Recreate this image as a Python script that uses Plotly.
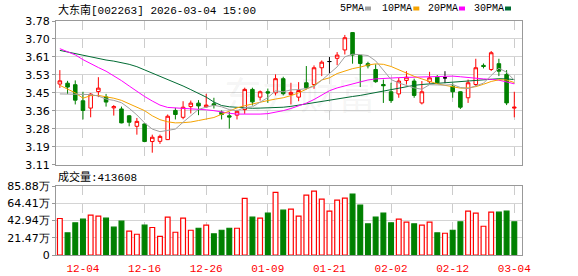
import plotly.graph_objects as go

# ---------------- data ----------------
dates = ["12-01", "12-02", "12-03", "12-04", "12-05", "12-08", "12-09", "12-10", "12-11", "12-12",
         "12-15", "12-16", "12-17", "12-18", "12-19", "12-22", "12-23", "12-24", "12-25", "12-26",
         "12-29", "12-30", "12-31", "01-05", "01-06", "01-07", "01-08", "01-09", "01-12", "01-13",
         "01-14", "01-15", "01-16", "01-19", "01-20", "01-21", "01-22", "01-23", "01-26", "01-27",
         "01-28", "01-29", "01-30", "02-02", "02-03", "02-04", "02-05", "02-06", "02-09", "02-10",
         "02-11", "02-12", "02-13", "02-24", "02-25", "02-26", "02-27", "03-02", "03-03", "03-04"]

open_ = [3.486, 3.490, 3.483, 3.408, 3.374, 3.451, 3.426, 3.375, 3.370, 3.338,
         3.289, 3.300, 3.218, 3.219, 3.227, 3.363, 3.331, 3.381, 3.397, 3.380,
         3.394, 3.355, 3.338, 3.341, 3.367, 3.461, 3.425, 3.450, 3.445, 3.511,
         3.437, 3.425, 3.492, 3.484, 3.562, 3.591, 3.606, 3.645, 3.726, 3.620,
         3.581, 3.554, 3.484, 3.450, 3.440, 3.503, 3.500, 3.398, 3.497, 3.518,
         3.515, 3.476, 3.450, 3.422, 3.484, 3.573, 3.554, 3.581, 3.531, 3.374]
high = [3.551, 3.501, 3.503, 3.450, 3.444, 3.518, 3.440, 3.388, 3.381, 3.341,
        3.328, 3.302, 3.250, 3.250, 3.344, 3.375, 3.406, 3.409, 3.411, 3.440,
        3.422, 3.363, 3.356, 3.366, 3.469, 3.469, 3.456, 3.465, 3.531, 3.520,
        3.492, 3.495, 3.570, 3.573, 3.596, 3.612, 3.635, 3.715, 3.727, 3.621,
        3.590, 3.578, 3.507, 3.492, 3.515, 3.546, 3.511, 3.500, 3.543, 3.528,
        3.546, 3.489, 3.452, 3.507, 3.604, 3.582, 3.640, 3.604, 3.551, 3.450]
low = [3.468, 3.440, 3.391, 3.321, 3.331, 3.425, 3.381, 3.339, 3.303, 3.289,
       3.250, 3.215, 3.166, 3.207, 3.225, 3.321, 3.322, 3.349, 3.341, 3.375,
       3.372, 3.321, 3.278, 3.321, 3.347, 3.386, 3.409, 3.398, 3.433, 3.433,
       3.391, 3.406, 3.461, 3.464, 3.523, 3.534, 3.574, 3.624, 3.581, 3.472,
       3.559, 3.492, 3.398, 3.398, 3.422, 3.484, 3.422, 3.391, 3.489, 3.489,
       3.490, 3.422, 3.370, 3.398, 3.476, 3.559, 3.547, 3.523, 3.388, 3.331]
close = [3.501, 3.472, 3.411, 3.363, 3.439, 3.467, 3.402, 3.381, 3.305, 3.308,
         3.312, 3.218, 3.238, 3.242, 3.336, 3.344, 3.378, 3.397, 3.384, 3.388,
         3.386, 3.344, 3.332, 3.359, 3.461, 3.403, 3.450, 3.444, 3.511, 3.441,
         3.447, 3.456, 3.469, 3.562, 3.588, 3.591, 3.621, 3.702, 3.621, 3.582,
         3.571, 3.497, 3.478, 3.409, 3.500, 3.518, 3.433, 3.450, 3.515, 3.492,
         3.515, 3.450, 3.378, 3.492, 3.562, 3.568, 3.632, 3.546, 3.398, 3.378]

ma5 = [3.440, 3.440, 3.439, 3.438, 3.437, 3.430, 3.416, 3.410, 3.399, 3.373,
       3.342, 3.305, 3.276, 3.264, 3.269, 3.276, 3.308, 3.339, 3.368, 3.378,
       3.387, 3.380, 3.367, 3.362, 3.376, 3.380, 3.401, 3.423, 3.454, 3.450,
       3.459, 3.460, 3.465, 3.475, 3.504, 3.533, 3.566, 3.613, 3.625, 3.623,
       3.619, 3.594, 3.550, 3.507, 3.491, 3.480, 3.468, 3.462, 3.483, 3.482,
       3.481, 3.484, 3.470, 3.465, 3.479, 3.490, 3.526, 3.560, 3.541, 3.504]
ma10 = [3.480, 3.462, 3.445, 3.420, 3.432, 3.433, 3.428, 3.420, 3.410, 3.395,
        3.380, 3.362, 3.338, 3.320, 3.310, 3.305, 3.306, 3.309, 3.316, 3.322,
        3.330, 3.345, 3.360, 3.375, 3.385, 3.394, 3.402, 3.409, 3.416, 3.422,
        3.432, 3.445, 3.462, 3.480, 3.505, 3.515, 3.535, 3.546, 3.558, 3.565,
        3.575, 3.580, 3.578, 3.568, 3.553, 3.535, 3.522, 3.510, 3.498, 3.487,
        3.480, 3.472, 3.467, 3.468, 3.474, 3.485, 3.498, 3.506, 3.505, 3.493]
ma20 = [3.651, 3.637, 3.622, 3.600, 3.580, 3.563, 3.546, 3.525, 3.502, 3.477,
        3.452, 3.428, 3.407, 3.388, 3.377, 3.375, 3.374, 3.372, 3.369, 3.366,
        3.362, 3.355, 3.350, 3.346, 3.345, 3.345, 3.346, 3.348, 3.354, 3.362,
        3.372, 3.383, 3.397, 3.414, 3.435, 3.455, 3.468, 3.478, 3.487, 3.495,
        3.505, 3.510, 3.513, 3.515, 3.516, 3.517, 3.518, 3.520, 3.522, 3.524,
        3.524, 3.523, 3.520, 3.516, 3.513, 3.510, 3.508, 3.504, 3.496, 3.487]
ma30 = [3.643, 3.635, 3.627, 3.620, 3.612, 3.605, 3.598, 3.593, 3.587, 3.578,
        3.567, 3.552, 3.537, 3.522, 3.509, 3.494, 3.477, 3.460, 3.443, 3.425,
        3.402, 3.386, 3.380, 3.377, 3.375, 3.373, 3.374, 3.375, 3.376, 3.378,
        3.382, 3.388, 3.395, 3.400, 3.404, 3.410, 3.417, 3.423, 3.428, 3.433,
        3.440, 3.447, 3.455, 3.462, 3.468, 3.474, 3.480, 3.484, 3.487, 3.490,
        3.492, 3.495, 3.497, 3.500, 3.502, 3.505, 3.508, 3.511, 3.510, 3.507]

volume = [454000, 275000, 400000, 446000, 496000, 483000, 458000, 346000, 421000, 296000,
          258000, 371000, 342000, 233000, 471000, 283000, 458000, 308000, 333000, 371000,
          263000, 308000, 333000, 333000, 704000, 471000, 458000, 521000, 779000, 558000,
          571000, 483000, 746000, 796000, 696000, 546000, 683000, 708000, 758000, 621000,
          388000, 471000, 521000, 400000, 446000, 408000, 388000, 371000, 408000, 275000,
          271000, 308000, 413000, 546000, 521000, 358000, 533000, 533000, 546000, 413608]

x_tick_labels = ["12-04", "12-16", "12-26", "01-09", "01-21", "02-02", "02-12", "03-04"]
price_ticks = [3.11, 3.19375, 3.2775, 3.36125, 3.445, 3.52875, 3.6125, 3.69625, 3.78]
price_tick_text = ["3.11", "3.19", "3.28", "3.36", "3.45", "3.53", "3.61", "3.70", "3.78"]
vol_ticks = [0, 214700, 429400, 644100, 858800]
vol_tick_text = ["0", "21.47万", "42.94万", "64.41万", "85.88万"]

title_text = "大东南[002263] 2026-03-04 15:00"
vol_label = "成交量:413608"
ma_names = ["5PMA", "10PMA", "20PMA", "30PMA"]

# ---------------- layout geometry ----------------
W, H = 578, 276
ML, MR, MT, MB = 56, 56, 21, 21
PW, PH = W - ML - MR, H - MT - MB


def px(x):
    return (x - ML) / PW


def py(y):
    return (H - MB - y) / PH


RED = "#ff0000"
GREEN = "#008000"
MA_COLORS = ["#a0a0a0", "#f5a300", "#ff00ff", "#006b33"]
GRID = "#d4d4d4"
FRAME = "#999999"

fig = go.Figure()

normal = [i for i in range(len(dates)) if open_[i] != close[i]]
doji = [i for i in range(len(dates)) if open_[i] == close[i]]


def pick(arr, idx):
    return [arr[i] for i in idx]


fig.add_trace(go.Candlestick(
    x=pick(dates, normal), open=pick(open_, normal), high=pick(high, normal),
    low=pick(low, normal), close=pick(close, normal),
    increasing=dict(line=dict(color=RED, width=1), fillcolor="#ffffff"),
    decreasing=dict(line=dict(color=GREEN, width=1), fillcolor=GREEN),
    whiskerwidth=0, xaxis="x", yaxis="y", hoverinfo="skip"))
fig.add_trace(go.Candlestick(
    x=pick(dates, doji), open=pick(open_, doji), high=pick(high, doji),
    low=pick(low, doji), close=pick(close, doji),
    increasing=dict(line=dict(color="#000000", width=1), fillcolor="#000000"),
    decreasing=dict(line=dict(color="#000000", width=1), fillcolor="#000000"),
    whiskerwidth=0, xaxis="x", yaxis="y", hoverinfo="skip"))

for vals, col in zip([ma30, ma20, ma10, ma5], MA_COLORS[::-1]):
    fig.add_trace(go.Scatter(x=dates, y=vals, mode="lines",
                             line=dict(color=col, width=1),
                             xaxis="x", yaxis="y", hoverinfo="skip"))

up = []
for i in range(len(dates)):
    ref = open_[i] if i == 0 else close[i - 1]
    up.append(close[i] >= ref)
bar_fill = ["#ffffff" if u else GREEN for u in up]
bar_line = [RED if u else GREEN for u in up]
fig.add_trace(go.Bar(x=dates, y=volume, width=0.62,
                     marker=dict(color=bar_fill, line=dict(color=bar_line, width=1.2)),
                     xaxis="x2", yaxis="y2", hoverinfo="skip"))

axis_common = dict(showline=True, mirror=True, linecolor=FRAME, linewidth=1,
                   zeroline=False, automargin=False)
tick_font = dict(family="DejaVu Sans", size=11, color="#000000")

fig.update_layout(
    width=W, height=H, margin=dict(l=ML, r=MR, t=MT, b=MB),
    paper_bgcolor="white", plot_bgcolor="white", showlegend=False,
    boxgap=0.34, bargap=0.3,
    xaxis=dict(type="category", categoryorder="array", categoryarray=dates,
               range=[-0.5, 60.0], domain=[0, 1], anchor="y",
               tickmode="array", tickvals=x_tick_labels, showticklabels=False,
               showgrid=True, gridcolor="#cccccc", griddash="dash", gridwidth=1,
               rangeslider=dict(visible=False), ticks="", **axis_common),
    yaxis=dict(domain=[py(164.7), 1], range=[3.11, 3.78], tickmode="array",
               tickvals=price_ticks, ticktext=price_tick_text, tickfont=tick_font,
               showgrid=True, gridcolor=GRID, ticks="outside", ticklen=3, tickcolor=FRAME,
               **axis_common),
    xaxis2=dict(type="category", categoryorder="array", categoryarray=dates,
                range=[-0.5, 60.0], domain=[0, 1], anchor="y2", matches="x",
                tickmode="array", tickvals=x_tick_labels, ticktext=x_tick_labels,
                tickfont=dict(family="Liberation Mono", size=11, color=RED),
                ticklabelstandoff=3,
                showgrid=True, gridcolor="#cccccc", griddash="dash", gridwidth=1,
                ticks="", **axis_common),
    yaxis2=dict(domain=[0, py(186)], range=[0, 858800], tickmode="array",
                tickvals=vol_ticks, ticktext=vol_tick_text, tickfont=tick_font,
                showgrid=True, gridcolor=GRID, ticks="outside", ticklen=3, tickcolor=FRAME,
                **axis_common),
)

mono = "Liberation Mono, Noto Sans CJK SC"
annotations = [
    dict(text=title_text, x=px(56), y=py(10), xref="paper", yref="paper",
         xanchor="left", yanchor="middle", showarrow=False,
         font=dict(family=mono, size=11, color="#000000")),
    dict(text=vol_label, x=px(56), y=py(176.5), xref="paper", yref="paper",
         xanchor="left", yanchor="middle", showarrow=False,
         font=dict(family=mono, size=11, color="#000000")),
    dict(text="东方财富", x=px(300), y=py(92), xref="paper", yref="paper",
         xanchor="center", yanchor="middle", showarrow=False,
         font=dict(family="Noto Sans CJK SC", size=38, color="rgba(120,120,120,0.08)")),
]
legend_x = [338.3, 380.0, 425.7, 471.7]
square_x = [365.0, 413.3, 459.0, 505.0]
shapes = []
for name, lx, sx, col in zip(ma_names, legend_x, square_x, MA_COLORS):
    annotations.append(dict(text=name, x=px(lx), y=py(8.5), xref="paper", yref="paper",
                            xanchor="left", yanchor="middle", showarrow=False,
                            font=dict(family="Liberation Mono", size=10, color="#000000")))
    shapes.append(dict(type="rect", xref="paper", yref="paper",
                       x0=px(sx), x1=px(sx + 6), y0=py(10.5), y1=py(6.5),
                       fillcolor=col, line=dict(width=0)))
fig.update_layout(annotations=annotations, shapes=shapes)

fig.write_html("out.html")
